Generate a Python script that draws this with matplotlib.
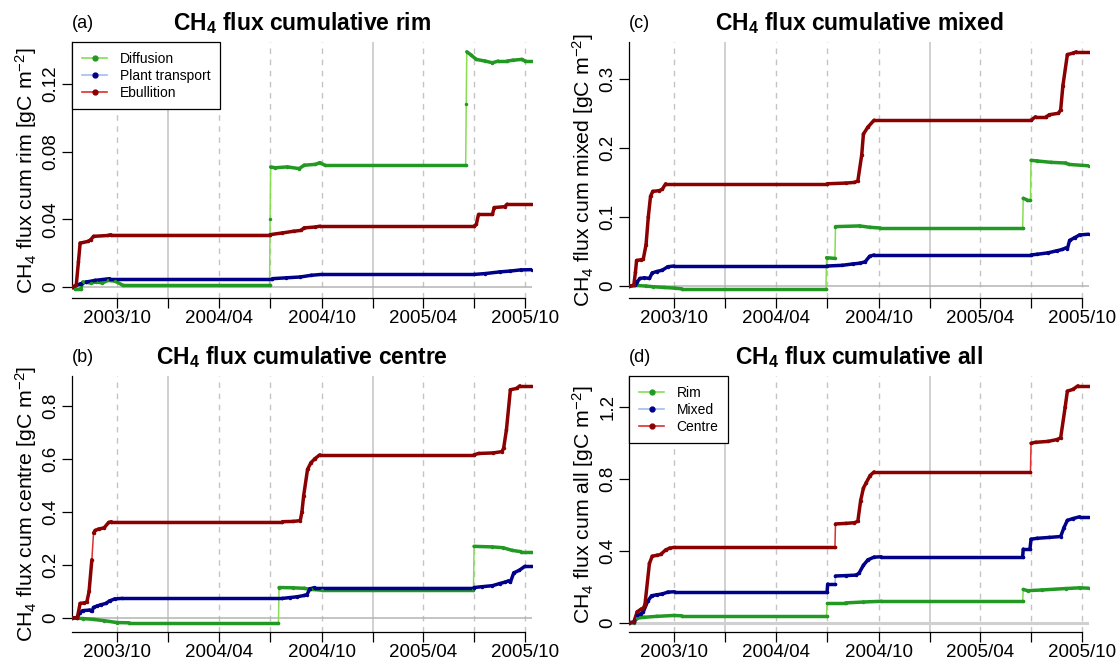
import numpy as np
import pandas as pd
import matplotlib
matplotlib.use('Agg')
import matplotlib.pyplot as plt
import matplotlib.dates as mdates
from matplotlib.collections import LineCollection
from matplotlib.lines import Line2D

plt.rcParams['font.family'] = ['Liberation Sans', 'DejaVu Sans']
plt.rcParams['mathtext.fontset'] = 'custom'
plt.rcParams['mathtext.rm'] = 'Liberation Sans'
plt.rcParams['mathtext.bf'] = 'Liberation Sans:bold'
plt.rcParams['mathtext.default'] = 'regular'

###### DATA ######

x_start, x_end = '2003-07-13', '2005-10-12'

# (a) rim
rim_diff_dates = ['2003-07-13', '2003-07-18', '2003-07-28', '2003-08-01', '2003-08-15', '2003-08-25', '2003-09-05',
                  '2003-09-15', '2003-09-28', '2003-10-12', '2004-06-30', '2004-07-01', '2004-07-02', '2004-07-10',
                  '2004-08-01', '2004-08-22', '2004-08-31', '2004-09-20', '2004-09-28', '2004-10-07', '2005-06-16',
                  '2005-06-17', '2005-06-18', '2005-06-26', '2005-07-05', '2005-07-21', '2005-08-03', '2005-08-13',
                  '2005-08-29', '2005-09-08', '2005-09-24', '2005-10-01', '2005-10-12']
rim_diff = [0.0, -0.001, -0.001, 0.003, 0.0025, 0.003, 0.0025,
            0.004, 0.0035, 0.001, 0.001, 0.040, 0.071, 0.0705,
            0.071, 0.070, 0.072, 0.0725, 0.0735, 0.072, 0.072,
            0.108, 0.139, 0.137, 0.1345, 0.1335, 0.1325, 0.1335,
            0.1335, 0.134, 0.1345, 0.1335, 0.1335]
rim_plant_dates = ['2003-07-13', '2003-07-28', '2003-08-07', '2003-08-23', '2003-09-18', '2004-07-05', '2004-07-30',
                   '2004-08-24', '2004-09-13', '2004-10-01', '2005-07-01', '2005-07-21', '2005-08-16', '2005-09-04',
                   '2005-09-23', '2005-10-12']
rim_plant = [0.0, 0.002, 0.003, 0.004, 0.005, 0.005, 0.0055,
             0.006, 0.007, 0.0075, 0.0075, 0.008, 0.009, 0.0095,
             0.0102, 0.0103]
rim_ebu_dates = ['2003-07-13', '2003-07-20', '2003-07-24', '2003-07-27', '2003-08-10', '2003-08-15', '2003-08-20',
                 '2003-09-15', '2003-09-20', '2004-07-01', '2004-07-23', '2004-08-12', '2004-08-25', '2004-08-31',
                 '2004-09-20', '2004-09-28', '2005-07-01', '2005-07-05', '2005-07-09', '2005-08-03', '2005-08-06',
                 '2005-08-25', '2005-08-29', '2005-10-12']
rim_ebu = [0.0, 0.001, 0.015, 0.026, 0.027, 0.028, 0.030,
           0.0305, 0.031, 0.031, 0.032, 0.033, 0.0335, 0.035,
           0.0355, 0.036, 0.036, 0.037, 0.043, 0.043, 0.047,
           0.0475, 0.049, 0.049]

# (c) mixed
mix_diff_dates = ['2003-07-13', '2003-07-21', '2003-08-12', '2003-08-25', '2003-09-13', '2003-10-02', '2003-10-15',
                  '2004-06-29', '2004-06-30', '2004-07-15', '2004-07-16', '2004-08-28', '2004-09-16', '2004-10-04',
                  '2005-06-16', '2005-06-17', '2005-06-23', '2005-06-30', '2005-07-01', '2005-07-12', '2005-08-06',
                  '2005-09-01', '2005-09-07', '2005-10-12']
mix_diff = [0.0, 0.001, 0.0, -0.001, -0.002, -0.003, -0.004,
            -0.004, 0.041, 0.040, 0.086, 0.087, 0.085, 0.084,
            0.084, 0.127, 0.125, 0.125, 0.182, 0.181, 0.179,
            0.178, 0.176, 0.174]
mix_plant_dates = ['2003-07-13', '2003-07-24', '2003-07-27', '2003-08-01', '2003-08-09', '2003-08-18', '2003-08-23',
                   '2003-08-31', '2003-09-10', '2003-09-20', '2003-10-01', '2004-07-01', '2004-07-28', '2004-08-16',
                   '2004-08-28', '2004-09-07', '2004-09-15', '2004-09-23', '2005-07-01', '2005-07-12', '2005-07-31',
                   '2005-08-16', '2005-08-26', '2005-09-01', '2005-09-04', '2005-09-08', '2005-09-17', '2005-09-26',
                   '2005-10-12']
mix_plant = [0.0, 0.001, 0.006, 0.011, 0.012, 0.011, 0.019,
             0.021, 0.023, 0.028, 0.029, 0.029, 0.030, 0.032,
             0.033, 0.035, 0.043, 0.045, 0.045, 0.046, 0.048,
             0.051, 0.053, 0.055, 0.054, 0.066, 0.070, 0.074,
             0.075]
mix_ebu_dates = ['2003-07-13', '2003-07-21', '2003-07-24', '2003-07-26', '2003-08-03', '2003-08-07', '2003-08-12',
                 '2003-08-16', '2003-08-20', '2003-08-24', '2003-09-04', '2003-09-10', '2003-09-16', '2004-07-01',
                 '2004-08-03', '2004-08-19', '2004-08-25', '2004-09-01', '2004-09-04', '2004-09-12', '2004-09-23',
                 '2005-07-01', '2005-07-09', '2005-07-28', '2005-08-03', '2005-08-19', '2005-08-23', '2005-08-27',
                 '2005-09-04', '2005-09-14', '2005-09-20', '2005-10-12']
mix_ebu = [0.0, 0.001, 0.020, 0.037, 0.038, 0.039, 0.060,
           0.100, 0.130, 0.137, 0.138, 0.140, 0.148, 0.148,
           0.149, 0.150, 0.152, 0.190, 0.220, 0.230, 0.240,
           0.240, 0.245, 0.245, 0.248, 0.250, 0.255, 0.290,
           0.335, 0.337, 0.339, 0.339]

# (b) centre
cen_diff_dates = ['2003-07-13', '2003-08-01', '2003-08-20', '2003-09-08', '2003-10-01', '2003-10-23', '2004-07-16',
                  '2004-07-17', '2004-08-11', '2004-08-31', '2004-09-12', '2004-10-01', '2005-06-30', '2005-07-01',
                  '2005-08-03', '2005-08-22', '2005-09-07', '2005-09-23', '2005-10-12']
cen_diff = [0.0, -0.002, -0.005, -0.010, -0.017, -0.018, -0.018,
            0.115, 0.114, 0.112, 0.108, 0.105, 0.105, 0.270,
            0.268, 0.265, 0.255, 0.250, 0.250]
cen_plant_dates = ['2003-07-13', '2003-07-22', '2003-07-26', '2003-08-01', '2003-08-13', '2003-08-17', '2003-08-20',
                   '2003-08-26', '2003-09-02', '2003-09-11', '2003-09-18', '2003-09-27', '2003-10-10', '2004-07-23',
                   '2004-08-05', '2004-08-18', '2004-08-31', '2004-09-05', '2004-09-10', '2004-09-19', '2005-07-01',
                   '2005-07-15', '2005-08-03', '2005-08-16', '2005-08-25', '2005-09-01', '2005-09-04', '2005-09-10',
                   '2005-09-20', '2005-09-30', '2005-10-12']
cen_plant = [0.0, 0.002, 0.020, 0.028, 0.030, 0.025, 0.040,
             0.045, 0.050, 0.055, 0.065, 0.072, 0.074, 0.074,
             0.077, 0.080, 0.085, 0.088, 0.110, 0.115, 0.115,
             0.118, 0.122, 0.130, 0.135, 0.140, 0.135, 0.170,
             0.180, 0.195, 0.195]
cen_ebu_dates = ['2003-07-13', '2003-07-22', '2003-07-27', '2003-08-03', '2003-08-08', '2003-08-12', '2003-08-17',
                 '2003-08-20', '2003-08-23', '2003-08-29', '2003-09-08', '2003-09-16', '2003-09-21', '2004-07-23',
                 '2004-08-11', '2004-08-24', '2004-08-27', '2004-08-30', '2004-09-06', '2004-09-12', '2004-09-19',
                 '2004-09-28', '2005-07-01', '2005-07-09', '2005-08-04', '2005-08-20', '2005-08-23', '2005-08-28',
                 '2005-09-04', '2005-09-15', '2005-09-21', '2005-10-12']
cen_ebu = [0.0, 0.002, 0.055, 0.057, 0.060, 0.100, 0.220,
           0.320, 0.330, 0.335, 0.340, 0.360, 0.363, 0.363,
           0.364, 0.367, 0.400, 0.460, 0.560, 0.585, 0.600,
           0.615, 0.615, 0.620, 0.622, 0.627, 0.640, 0.710,
           0.860, 0.865, 0.875, 0.875]

# (d) all
all_rim_dates = ['2003-07-13', '2003-07-21', '2003-07-27', '2003-08-09', '2003-08-31', '2003-10-01', '2003-10-15',
                 '2004-06-30', '2004-07-01', '2004-08-03', '2004-09-04', '2004-10-06', '2005-06-16', '2005-06-17',
                 '2005-06-25', '2005-07-20', '2005-09-01', '2005-09-26', '2005-10-12']
all_rim = [0.0, -0.001, 0.025, 0.030, 0.035, 0.040, 0.038,
           0.038, 0.110, 0.110, 0.115, 0.119, 0.119, 0.185,
           0.178, 0.182, 0.190, 0.194, 0.192]
all_mix_dates = ['2003-07-13', '2003-07-21', '2003-07-27', '2003-08-03', '2003-08-07', '2003-08-15', '2003-08-22',
                 '2003-08-31', '2003-09-10', '2003-09-20', '2003-10-02', '2004-07-01', '2004-07-02', '2004-07-15',
                 '2004-07-16', '2004-08-03', '2004-08-22', '2004-08-27', '2004-09-04', '2004-09-12', '2004-09-23',
                 '2004-10-06', '2005-06-16', '2005-06-17', '2005-06-29', '2005-07-01', '2005-07-12', '2005-08-03',
                 '2005-08-23', '2005-08-29', '2005-09-04', '2005-09-14', '2005-09-26', '2005-10-12']
all_mix = [0.0, 0.002, 0.040, 0.050, 0.060, 0.120, 0.150,
           0.155, 0.160, 0.170, 0.172, 0.172, 0.215, 0.215,
           0.260, 0.262, 0.265, 0.275, 0.320, 0.350, 0.365,
           0.367, 0.367, 0.410, 0.410, 0.465, 0.470, 0.475,
           0.480, 0.530, 0.570, 0.580, 0.590, 0.590]
all_cen_dates = ['2003-07-13', '2003-07-21', '2003-07-27', '2003-08-03', '2003-08-07', '2003-08-10', '2003-08-18',
                 '2003-08-23', '2003-08-31', '2003-09-07', '2003-09-16', '2003-09-23', '2003-10-02', '2004-07-15',
                 '2004-07-16', '2004-08-03', '2004-08-19', '2004-08-25', '2004-08-30', '2004-09-04', '2004-09-09',
                 '2004-09-16', '2004-09-23', '2005-06-30', '2005-07-01', '2005-07-09', '2005-07-31', '2005-08-16',
                 '2005-08-23', '2005-08-31', '2005-09-04', '2005-09-14', '2005-09-23', '2005-10-12']
all_cen = [0.0, 0.002, 0.060, 0.075, 0.080, 0.100, 0.330,
           0.370, 0.375, 0.380, 0.405, 0.415, 0.420, 0.420,
           0.550, 0.553, 0.557, 0.565, 0.680, 0.750, 0.780,
           0.820, 0.840, 0.840, 1.000, 1.005, 1.010, 1.020,
           1.030, 1.200, 1.290, 1.300, 1.320, 1.320]

# axis ticks
quarter_dates = ['2003-10-01', '2004-01-01', '2004-04-01', '2004-07-01', '2004-10-01',
                 '2005-01-01', '2005-04-01', '2005-07-01', '2005-10-01']
quarter_labels = ['2003/10', '', '2004/04', '', '2004/10', '', '2005/04', '', '2005/10']
yticks_rim = [0, 0.04, 0.08, 0.12]
yticks_mix = [0, 0.1, 0.2, 0.3]
yticks_cen = [0, 0.2, 0.4, 0.6, 0.8]
yticks_all = [0, 0.4, 0.8, 1.2]

# colours: (line, points)
GREEN = ('#88dd55', '#229922')
BLUE = ('#a0bff0', '#00008b')
RED = ('#dd3030', '#8b0000')

W, H = 1119, 666
fig = plt.figure(figsize=(W / 100, H / 100), dpi=100)


def to_num(dates):
    return mdates.date2num(pd.to_datetime(dates))


def draw_series(ax, dates, vals, colours):
    """ light line + dark points, points merge into a thick line where the series moves slowly """
    light, dark = colours
    x = to_num(dates)
    y = np.asarray(vals, dtype=float)
    ax.plot(x, y, color=light, lw=1.1, zorder=3)
    pts = ax.transData.transform(np.column_stack([x, y]))
    px_per_day = np.abs(np.diff(pts[:, 1])) / np.maximum(np.diff(x), 1)
    widths = np.where(px_per_day < 8, 2.5, 0.0)
    segs = np.stack([np.column_stack([x[:-1], y[:-1]]), np.column_stack([x[1:], y[1:]])], axis=1)
    lc = LineCollection(segs, colors=dark, linewidths=widths, capstyle='round', zorder=4)
    ax.add_collection(lc)
    ax.plot(x, y, ls='none', marker='o', ms=2.5, color=dark, mew=0, zorder=5)


panels = [
    dict(box=(72.3, 42.3, 531.6, 298.3), tag='(a)', name='rim', yticks=yticks_rim, zero=('#b4b4b4', 1.1),
         series=[(rim_diff_dates, rim_diff, GREEN), (rim_plant_dates, rim_plant, BLUE), (rim_ebu_dates, rim_ebu, RED)],
         legend=['Diffusion', 'Plant transport', 'Ebullition']),
    dict(box=(629.3, 42.3, 1088.6, 298.3), tag='(c)', name='mixed', yticks=yticks_mix, zero=('#b4b4b4', 1.1),
         series=[(mix_diff_dates, mix_diff, GREEN), (mix_plant_dates, mix_plant, BLUE), (mix_ebu_dates, mix_ebu, RED)],
         legend=None),
    dict(box=(72.3, 376.3, 531.6, 632.3), tag='(b)', name='centre', yticks=yticks_cen, zero=('#b4b4b4', 1.1),
         series=[(cen_diff_dates, cen_diff, GREEN), (cen_plant_dates, cen_plant, BLUE), (cen_ebu_dates, cen_ebu, RED)],
         legend=None),
    dict(box=(629.3, 376.3, 1088.6, 632.3), tag='(d)', name='all', yticks=yticks_all, zero=('#d0d0d0', 2.2),
         series=[(all_rim_dates, all_rim, GREEN), (all_mix_dates, all_mix, BLUE), (all_cen_dates, all_cen, RED)],
         legend=['Rim', 'Mixed', 'Centre']),
]

xq = to_num(quarter_dates)
x0, x1 = to_num([x_start, x_end])

for p in panels:
    left, top, right, bottom = p['box']
    ax = fig.add_axes([left / W, 1 - bottom / H, (right - left) / W, (bottom - top) / H])

    # y range like R: data range + 4 %
    allv = np.concatenate([np.asarray(s[1]) for s in p['series']])
    lo, hi = allv.min(), allv.max()
    pad = 0.04 * (hi - lo)
    ax.set_ylim(lo - pad, hi + pad)
    ax.set_xlim(x0, x1)

    # grid
    for d, q in zip(quarter_dates, xq):
        if d.endswith('01-01'):
            ax.axvline(q, color='#c8c8c8', lw=1.2, zorder=1)
        else:
            ax.axvline(q, color='#c4c4c4', lw=1.0, ls=(0, (4, 4)), zorder=1)
    ax.axhline(0, color=p['zero'][0], lw=p['zero'][1], zorder=2)

    for dates, vals, col in p['series']:
        draw_series(ax, dates, vals, col)

    # axes
    for s in ['top', 'right']:
        ax.spines[s].set_visible(False)
    ax.spines['left'].set_bounds(0, hi + pad)
    ax.spines['bottom'].set_bounds(x0, xq[-1])
    for s in ['left', 'bottom']:
        ax.spines[s].set_linewidth(0.9)
    ax.set_xticks(xq)
    ax.set_xticklabels(quarter_labels)
    ax.set_yticks(p['yticks'])
    ax.set_yticklabels(['{:g}'.format(v) for v in p['yticks']])
    ax.tick_params(axis='x', length=7.2, width=0.9, pad=1.2, labelsize=13.5)
    ax.tick_params(axis='y', length=7.2, width=0.9, pad=2.0, labelsize=13.5, labelrotation=90)
    for lab in ax.get_yticklabels():
        lab.set_va('center')

    # labels
    cy = (top + bottom) / 2
    fig.text((left - 46) / W, 1 - cy / H, 'CH$_4$ flux cum %s [gC m$^{-2}$]' % p['name'],
             rotation=90, ha='center', va='center', fontsize=15.3)
    fig.text(left / W, 1 - (top - 13.8) / H, p['tag'], ha='left', va='baseline', fontsize=13)
    fig.text((left + right) / 2 / W, 1 - (top - 12.3) / H, 'CH$_4$ flux cumulative %s' % p['name'],
             ha='center', va='baseline', fontsize=16.5, fontweight='bold')

    if p['legend']:
        handles = [Line2D([], [], color=c[0], lw=1.2, marker='o', ms=3.5, mfc=c[1], mec=c[1])
                   for _, _, c in p['series']]
        leg = ax.legend(handles, p['legend'], loc='upper left', bbox_to_anchor=(0, 1), borderaxespad=0,
                        fancybox=False, edgecolor='black', framealpha=1, fontsize=10, handlelength=1.8,
                        handletextpad=0.9, borderpad=0.7, labelspacing=0.2)
        leg.get_frame().set_linewidth(0.9)
        leg.set_zorder(10)

fig.savefig('out.png', dpi=100)
